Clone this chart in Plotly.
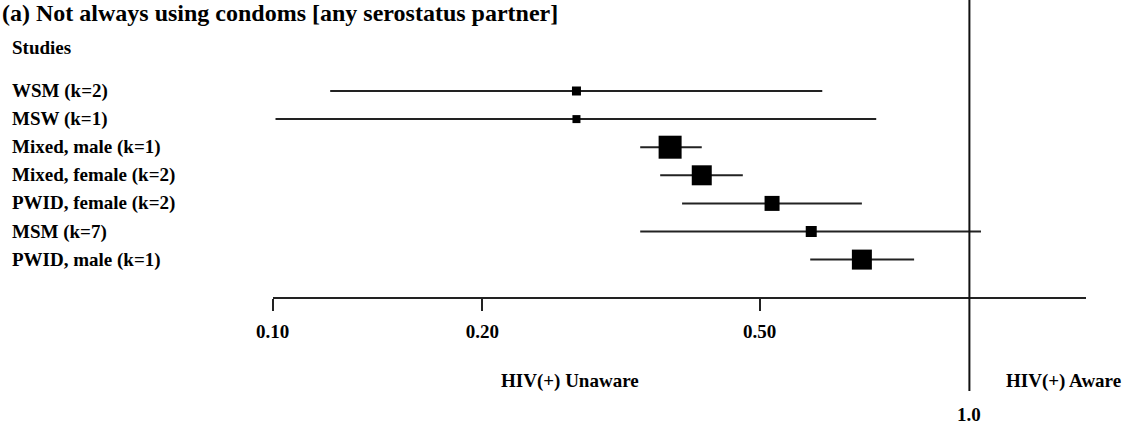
import plotly.graph_objects as go

# ---- data ----
studies = ["WSM (k=2)", "MSW (k=1)", "Mixed, male (k=1)", "Mixed, female (k=2)",
           "PWID, female (k=2)", "MSM (k=7)", "PWID, male (k=1)"]
estimate = [0.273, 0.273, 0.372, 0.413, 0.521, 0.593, 0.701]
ci_low = [0.121, 0.101, 0.337, 0.360, 0.387, 0.337, 0.591]
ci_high = [0.615, 0.735, 0.413, 0.473, 0.701, 1.039, 0.833]
box_size = [9, 8, 23, 20, 15, 11, 20]
tick_vals = [0.1, 0.2, 0.5]
tick_text = ["0.10", "0.20", "0.50"]
title_text = "(a) Not always using condoms [any serostatus partner]"

W, H = 1136, 426
FONT = "Liberation Serif"
FS = 19
row_y = list(range(len(studies)))

fig = go.Figure()
for i in range(len(studies)):
    fig.add_trace(go.Scatter(
        x=[ci_low[i], ci_high[i]], y=[row_y[i], row_y[i]], mode="lines",
        line=dict(color="#222222", width=2), showlegend=False, hoverinfo="skip"))
fig.add_trace(go.Scatter(
    x=estimate, y=row_y, mode="markers",
    marker=dict(symbol="square", size=box_size, color="black", opacity=1,
                line=dict(width=0)),
    showlegend=False, text=studies))

# pixel geometry
x_px0 = 272.5      # pixel of 0.1
px_per_dec = 696.9
x_px_end = 1086
row_px0, row_step = 91, 28.1
axis_px_y = 298.3

x_range = [-1, -1 + (x_px_end - x_px0) / px_per_dec]
y_top = -row_px0 / row_step
y_bot = (H - row_px0) / row_step

fig.update_layout(
    width=W, height=H, margin=dict(l=0, r=0, t=0, b=0, pad=0, autoexpand=False),
    paper_bgcolor="white", plot_bgcolor="white",
    font=dict(family=FONT, size=FS, color="black"),
    xaxis=dict(type="log", range=x_range, domain=[x_px0 / W, x_px_end / W],
               anchor="free", position=1 - axis_px_y / H, automargin=False,
               showline=True, linecolor="#222", linewidth=2, showgrid=False, zeroline=False,
               ticks="outside", ticklen=12, tickwidth=2, tickcolor="#222",
               tickvals=tick_vals, ticktext=tick_text, ticklabelstandoff=4,
               tickfont=dict(family=FONT, size=FS, weight="bold")),
    yaxis=dict(range=[y_bot, y_top], visible=False, domain=[0, 1], automargin=False),
    showlegend=False,
)

# reference line at 1.0
fig.add_shape(type="line", xref="x", yref="paper", x0=1.0, x1=1.0,
              y0=1 - 391 / H, y1=1, line=dict(color="#111", width=2))

def ann(text, xpx, ypx, size=FS, xanchor="left"):
    fig.add_annotation(text="<b>" + text + "</b>", xref="paper", yref="paper",
                       x=xpx / W, y=1 - ypx / H, xanchor=xanchor, yanchor="middle",
                       showarrow=False, font=dict(family=FONT, size=size, color="black"))

ann(title_text, 0, 13, size=24)
ann("Studies", 10, 47)
for i, s in enumerate(studies):
    fig.add_annotation(text="<b>" + s + "</b>", xref="paper", yref="y",
                       x=10 / W, y=row_y[i], xanchor="left", yanchor="middle",
                       showarrow=False, font=dict(family=FONT, size=FS, color="black"))
ann("HIV(+) Unaware", 570, 381, xanchor="center")
ann("HIV(+) Aware", 1063, 381, xanchor="center")
fig.add_annotation(text="<b>1.0</b>", xref="x", yref="paper", x=0.0, y=1 - 414 / H,
                   xanchor="center", yanchor="middle", showarrow=False,
                   font=dict(family=FONT, size=FS, color="black"))

fig.write_html("out.html", config={"displayModeBar": False},
               post_script="document.body.style.margin='0px';"
                           "document.body.style.padding='0px';"
                           "document.body.style.overflow='hidden';")
